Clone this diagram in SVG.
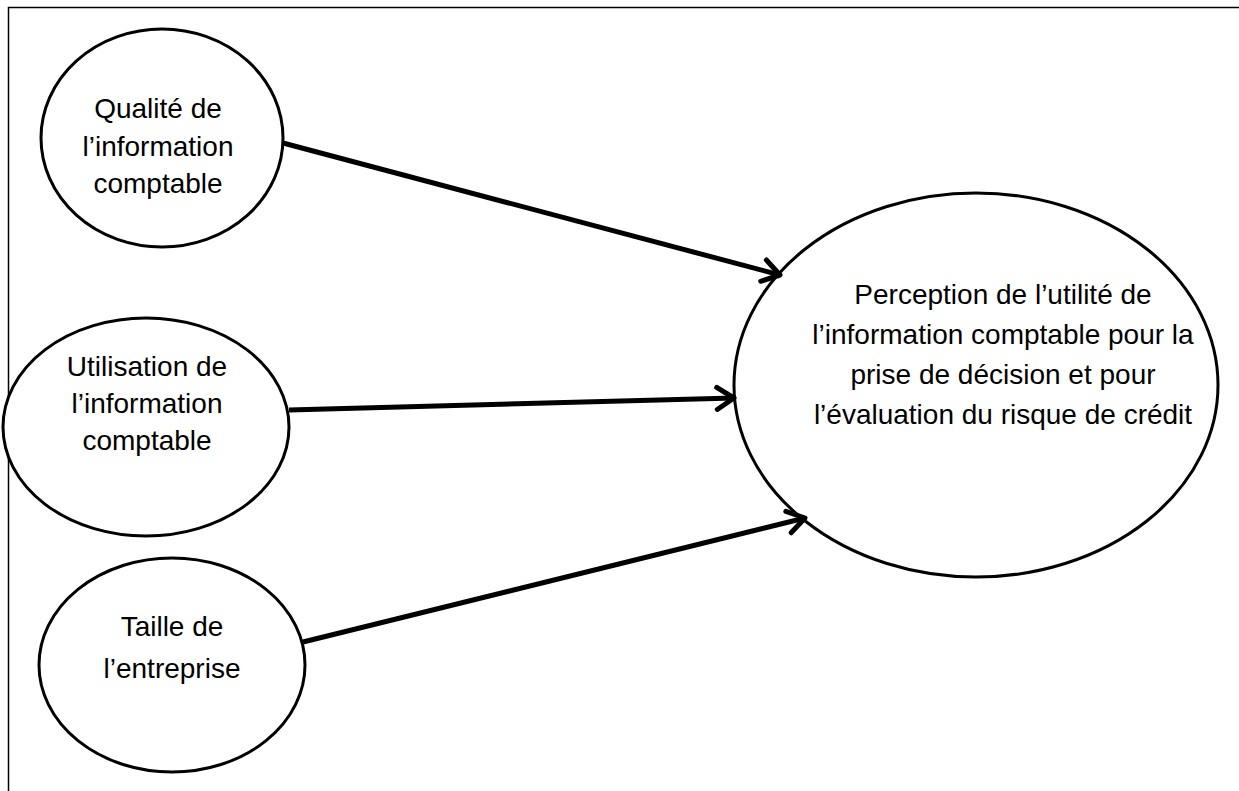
<svg xmlns="http://www.w3.org/2000/svg" width="1239" height="791" viewBox="0 0 1239 791">
<style>
.node{fill:#fff;stroke:#000;stroke-width:3}
.lbl{font-family:"Liberation Sans",Arial,sans-serif;font-size:28px;fill:#000;text-anchor:middle}
.edge{stroke:#000;stroke-width:5;fill:none;marker-end:url(#arr)}
</style>
<defs>
<marker id="arr" markerUnits="userSpaceOnUse" markerWidth="40" markerHeight="40" refX="0" refY="0" orient="auto" overflow="visible">
<path d="M-17,-11 L0,0 L-17,11" fill="none" stroke="#000" stroke-width="5" stroke-linecap="round" stroke-linejoin="round"/>
</marker>
</defs>
<rect x="0" y="0" width="1239" height="791" fill="#fff"/>
<rect x="8.5" y="7.5" width="1240" height="800" fill="none" stroke="#000" stroke-width="1.5"/>
<g id="n1">
<ellipse class="node" cx="162" cy="138" rx="121" ry="109"/>
<text class="lbl" x="158" y="118">Qualité de</text>
<text class="lbl" x="158" y="156">l’information</text>
<text class="lbl" x="158" y="193">comptable</text>
</g>
<g id="n2">
<ellipse class="node" cx="146" cy="427" rx="143" ry="109"/>
<text class="lbl" x="147" y="376">Utilisation de</text>
<text class="lbl" x="147" y="413">l’information</text>
<text class="lbl" x="147" y="450">comptable</text>
</g>
<g id="n3">
<ellipse class="node" cx="172" cy="665" rx="133" ry="107"/>
<text class="lbl" x="172" y="636">Taille de</text>
<text class="lbl" x="172" y="678">l’entreprise</text>
</g>
<g id="n4">
<ellipse class="node" cx="976" cy="385" rx="242" ry="192"/>
<text class="lbl" x="1003" y="304">Perception de l’utilité de</text>
<text class="lbl" x="1003" y="344">l’information comptable pour la</text>
<text class="lbl" x="1003" y="384">prise de décision et pour</text>
<text class="lbl" x="1003" y="424">l’évaluation du risque de crédit</text>
</g>
<g id="edges">
<line class="edge" x1="283" y1="143" x2="780" y2="275"/>
<line class="edge" x1="289" y1="410" x2="734" y2="398"/>
<line class="edge" x1="303" y1="642" x2="805" y2="518"/>
</g>
</svg>
